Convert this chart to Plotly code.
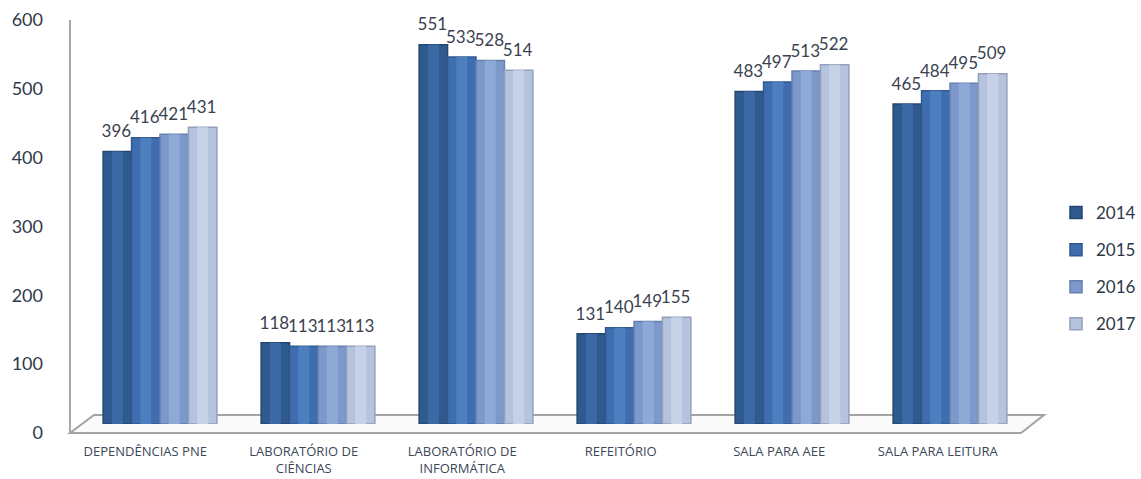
import plotly.graph_objects as go

categories = ["DEPENDÊNCIAS PNE", "LABORATÓRIO DE<br>CIÊNCIAS", "LABORATÓRIO DE<br>INFORMÁTICA",
              "REFEITÓRIO", "SALA PARA AEE", "SALA PARA LEITURA"]
years = ["2014", "2015", "2016", "2017"]
v2014 = [396, 118, 551, 131, 483, 465]
v2015 = [416, 113, 533, 140, 497, 484]
v2016 = [421, 113, 528, 149, 513, 495]
v2017 = [431, 113, 514, 155, 522, 509]
series = [v2014, v2015, v2016, v2017]
colors = ["#2f5a8f", "#3f6eb0", "#7d99cb", "#b6c3df"]
edge = ["#24476f", "#30588f", "#6580ae", "#949fbc"]
shine = ["#3a69a3", "#4d7fc0", "#8fa9d6", "#c6d1e8"]
yticks = [0, 100, 200, 300, 400, 500, 600]

W, H = 1141, 479
def px(x): return x / W
def py(y): return 1 - y / H

fig = go.Figure()
xpos = list(range(len(categories)))
for yr, vals, c, e in zip(years, series, colors, edge):
    fig.add_trace(go.Bar(
        x=xpos, y=vals, name=yr, marker=dict(color=c, line=dict(color=e, width=1.5)),
        offsetgroup=yr, alignmentgroup="a",
        legendgroup=yr, xaxis="x", yaxis="y", hovertemplate="%{y}<extra>" + yr + "</extra>",
    ))
for yr, vals, s in zip(years, series, shine):
    fig.add_trace(go.Bar(
        x=xpos, y=vals, name=yr, marker=dict(color=s, line=dict(width=0)),
        width=0.07, offsetgroup=yr, alignmentgroup="a", showlegend=False,
        legendgroup=yr, xaxis="x", yaxis="y", hoverinfo="skip",
    ))
# value labels (on a plane slightly raised, as in the 3-D original)
for yr, vals in zip(years, series):
    fig.add_trace(go.Scatter(
        x=xpos, y=vals, mode="text", text=[str(v) for v in vals],
        textposition="top center", cliponaxis=False,
        textfont=dict(family="Lato", size=17, color="#3a4250"),
        offsetgroup=yr, alignmentgroup="t", showlegend=False, legendgroup=yr,
        xaxis="x3", yaxis="y3", hoverinfo="skip",
    ))

# helper trace to carry the category / value axes (front plane)
fig.add_trace(go.Scatter(x=xpos, y=[0] * len(xpos), mode="markers",
                         marker=dict(opacity=0), showlegend=False, hoverinfo="skip",
                         xaxis="x2", yaxis="y2"))

floor = (f"M {px(70)} {py(433)} L {px(1021)} {py(433)} L {px(1044)} {py(415)} "
         f"L {px(94)} {py(415)} Z")

fig.update_layout(
    width=W, height=H,
    margin=dict(l=0, r=0, t=0, b=0, autoexpand=False),
    paper_bgcolor="white", plot_bgcolor="rgba(0,0,0,0)",
    barmode="group", bargap=0.28, bargroupgap=0, scattermode="group", scattergap=0.28,
    xaxis=dict(domain=[px(81), px(1029)], range=[-0.5, 5.5], visible=False, anchor="y",
               automargin=False),
    yaxis=dict(domain=[py(424), py(11)], range=[0, 600], visible=False, anchor="x",
               automargin=False),
    xaxis3=dict(domain=[px(80), px(1028)], range=[-0.5, 5.5], visible=False, anchor="y3",
                automargin=False),
    yaxis3=dict(domain=[py(414), py(1)], range=[0, 600], visible=False, anchor="x3",
                automargin=False),
    xaxis2=dict(domain=[px(66), px(1017)], range=[-0.5, 5.5], anchor="y2",
                tickvals=xpos, ticktext=categories, showgrid=False, zeroline=False,
                showline=False, ticks="", ticklabelstandoff=9, automargin=False,
                tickfont=dict(family="Open Sans", size=13, color="#3b4858")),
    yaxis2=dict(domain=[py(433), py(20)], range=[0, 600], anchor="x2",
                tickvals=yticks, showgrid=False, zeroline=False, showline=False,
                ticks="", ticklabelstandoff=22, automargin=False,
                tickfont=dict(family="Lato", size=18, color="#2e3a4a")),
    legend=dict(x=1, y=py(195), xanchor="right", yanchor="top",
                font=dict(family="Lato", size=17, color="#2e3a4a"),
                tracegroupgap=12, traceorder="grouped", bgcolor="rgba(0,0,0,0)",
                itemwidth=30),
    shapes=[
        dict(type="path", path=floor, xref="paper", yref="paper",
             line=dict(color="#a3a3a3", width=2), fillcolor="#fafafa", layer="below"),
        dict(type="line", xref="paper", yref="paper", x0=px(70), x1=px(70),
             y0=py(433), y1=py(20), line=dict(color="#a8a8a8", width=2), layer="below"),
    ],
    showlegend=True,
)

fig.write_html("out.html")
